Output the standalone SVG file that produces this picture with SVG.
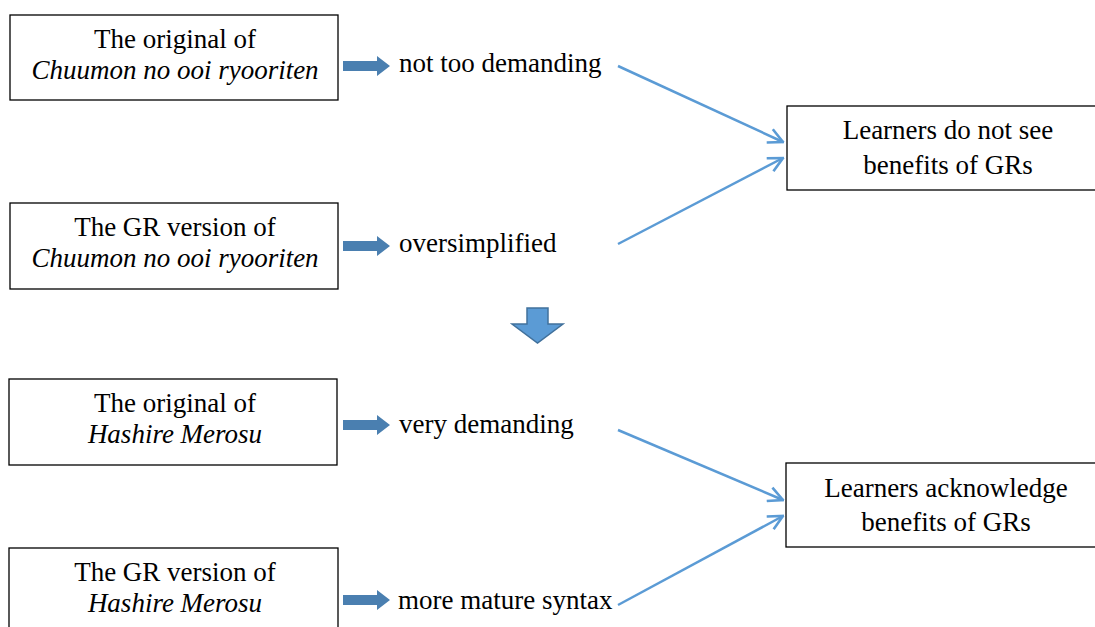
<svg xmlns="http://www.w3.org/2000/svg" width="1095" height="627" viewBox="0 0 1095 627">
<style>
.box{fill:#fff;stroke:#000;stroke-width:1.3}
.t{font-family:"Liberation Serif","Times New Roman",serif;font-size:27px;fill:#000}
.c{text-anchor:middle}
.i{font-style:italic}
.blk{fill:#4a7fb0}
.ln{stroke:#5b9bd5;stroke-width:2.5;fill:none;marker-end:url(#ah)}
</style>
<defs>
<marker id="ah" viewBox="0 0 12 12" refX="11" refY="6" markerWidth="7" markerHeight="7" markerUnits="strokeWidth" orient="auto">
<path d="M1,1 L11,6 L1,11" fill="none" stroke="#5b9bd5" stroke-width="1.8"/>
</marker>
<path id="blkarrow" d="M0,-5 H34 V-10 L47,0 L34,10 V5 H0 Z"/>
</defs>
<rect width="1095" height="627" fill="#fff"/>
<g id="n1"><rect class="box" x="10" y="15" width="328" height="85"/>
<text class="t c" x="175" y="48">The original of</text>
<text class="t c i" x="175" y="79">Chuumon no ooi ryooriten</text></g>
<g id="n2"><rect class="box" x="10" y="203" width="328" height="86"/>
<text class="t c" x="175" y="236">The GR version of</text>
<text class="t c i" x="175" y="267">Chuumon no ooi ryooriten</text></g>
<g id="n3"><rect class="box" x="9" y="379" width="328" height="86"/>
<text class="t c" x="175" y="412">The original of</text>
<text class="t c i" x="175" y="443">Hashire Merosu</text></g>
<g id="n4"><rect class="box" x="9" y="548" width="329" height="90"/>
<text class="t c" x="175" y="581">The GR version of</text>
<text class="t c i" x="175" y="612">Hashire Merosu</text></g>
<g id="r1"><rect class="box" x="787" y="106" width="310" height="84"/>
<text class="t c" x="948" y="139">Learners do not see</text>
<text class="t c" x="948" y="174">benefits of GRs</text></g>
<g id="r2"><rect class="box" x="786" y="463" width="310" height="84"/>
<text class="t c" x="946" y="497">Learners acknowledge</text>
<text class="t c" x="946" y="531">benefits of GRs</text></g>
<g id="l1"><text class="t" x="399" y="72">not too demanding</text></g>
<g id="l2"><text class="t" x="399" y="252">oversimplified</text></g>
<g id="l3"><text class="t" x="399" y="433">very demanding</text></g>
<g id="l4"><text class="t" x="398" y="609">more mature syntax</text></g>
<g id="connectors">
<use href="#blkarrow" class="blk" x="343" y="66"/>
<use href="#blkarrow" class="blk" x="343" y="246"/>
<use href="#blkarrow" class="blk" x="343" y="425"/>
<use href="#blkarrow" class="blk" x="343" y="600"/>
<line class="ln" x1="618" y1="66" x2="783" y2="142"/>
<line class="ln" x1="618" y1="244" x2="783" y2="158"/>
<line class="ln" x1="618" y1="430" x2="783" y2="500"/>
<line class="ln" x1="618" y1="605" x2="783" y2="516"/>
<path d="M527,308 H548 V324 H563 L537.5,343 L512,324 H527 Z" fill="#5b9bd5" stroke="#41719c" stroke-width="1.5"/>
</g>
</svg>
